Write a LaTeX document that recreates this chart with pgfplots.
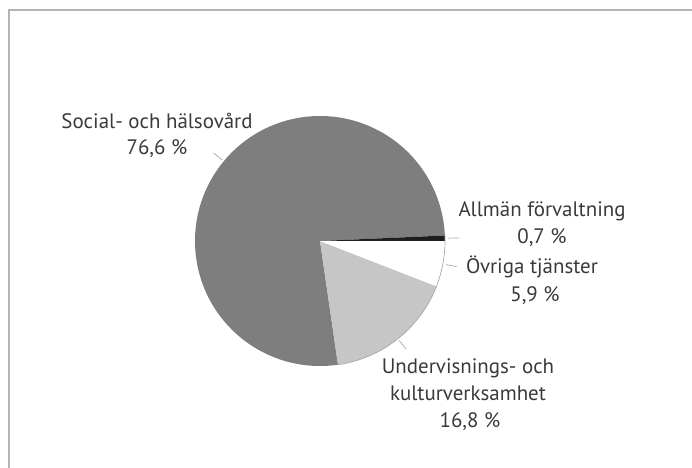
\documentclass[border=0pt]{standalone}
\usepackage{pgfplots}
\usepackage{pgfplotstable}
\pgfplotsset{compat=1.18}
\usepackage{fontspec}
\setmainfont{PT Sans}
\definecolor{txt}{HTML}{3A3A3A}
\definecolor{darkslice}{HTML}{7E7E7E}
\definecolor{lightslice}{HTML}{C6C6C6}
\definecolor{blackslice}{HTML}{1E1E1E}
\definecolor{rim}{HTML}{A8A8A8}
\definecolor{frame}{HTML}{B4B4B4}

\pgfplotstableread{
pct
0.7
5.9
16.8
76.6
}\piedata

\begin{document}
\begin{tikzpicture}
\path[use as bounding box] (0,0) rectangle (692bp,468bp);
\pgfplotstablegetelem{0}{pct}\of\piedata \let\pA\pgfplotsretval
\pgfplotstablegetelem{1}{pct}\of\piedata \let\pB\pgfplotsretval
\pgfplotstablegetelem{2}{pct}\of\piedata \let\pC\pgfplotsretval
\pgfplotstablegetelem{3}{pct}\of\piedata \let\pD\pgfplotsretval
\pgfmathsetmacro\aZero{3.6*\pA}
\pgfmathsetmacro\aOne{\aZero-3.6*\pA}
\pgfmathsetmacro\aTwo{\aOne-3.6*\pB}
\pgfmathsetmacro\aThree{\aTwo-3.6*\pC}
\pgfmathsetmacro\aFour{\aThree-3.6*\pD}
\pgfmathsetmacro\mA{(\aZero+\aOne)/2}
\pgfmathsetmacro\mB{(\aOne+\aTwo)/2}
\pgfmathsetmacro\mC{(\aTwo+\aThree)/2}
\pgfmathsetmacro\mD{(\aThree+\aFour)/2}
\begin{axis}[
  at={(0,0)}, anchor=south west,
  scale only axis, width=692bp, height=468bp,
  xmin=0, xmax=692, ymin=0, ymax=468,
  hide axis, clip=false,
]
% frame
\draw[frame, line width=1.3bp] (axis cs:9,0) -- (axis cs:9,458) -- (axis cs:692,458);
% slices
\fill[darkslice] (axis cs:320,227) -- ++(\aThree:125bp) arc[start angle=\aThree, end angle=\aFour, radius=125bp] -- cycle;
\fill[lightslice] (axis cs:320,227) -- ++(\aTwo:125bp) arc[start angle=\aTwo, end angle=\aThree, radius=125bp] -- cycle;
\fill[white] (axis cs:320,227) -- ++(\aOne:125bp) arc[start angle=\aOne, end angle=\aTwo, radius=125bp] -- cycle;
\fill[blackslice] (axis cs:320,227) -- ++(\aZero:125bp) arc[start angle=\aZero, end angle=\aOne, radius=125bp] -- cycle;
\draw[rim, line width=0.7bp] (axis cs:320,227) ++(\aZero:125bp) arc[start angle=\aZero, end angle=\aThree, radius=125bp];
% leader lines
\draw[rim, line width=0.7bp] (axis cs:320,227) ++(\mA:128bp) -- ++(\mA:11bp);
\draw[rim, line width=0.7bp] (axis cs:320,227) ++(\mB:128bp) -- ++(\mB:11bp);
\draw[rim, line width=0.7bp] (axis cs:320,227) ++(\mC:127bp) -- ++(\mC:11bp);
\draw[rim, line width=0.7bp] (axis cs:320,227) ++(\mD:127bp) -- ++(\mD:11bp);
% labels
\begin{scope}[every node/.style={anchor=base, text=txt, font=\fontsize{21}{25}\selectfont, inner sep=0pt}]
\node at (axis cs:157,339) {Social- och hälsovård};
\node at (axis cs:157,313) {76,6 \%};
\node at (axis cs:542,251) {Allmän förvaltning};
\node at (axis cs:542,224) {0,7 \%};
\node at (axis cs:532,194) {Övriga tjänster};
\node at (axis cs:535,166) {5,9 \%};
\node at (axis cs:468,94) {Undervisnings- och};
\node at (axis cs:468,67) {kulturverksamhet};
\node at (axis cs:470,40) {16,8 \%};
\end{scope}
\end{axis}
\end{tikzpicture}
\end{document}
